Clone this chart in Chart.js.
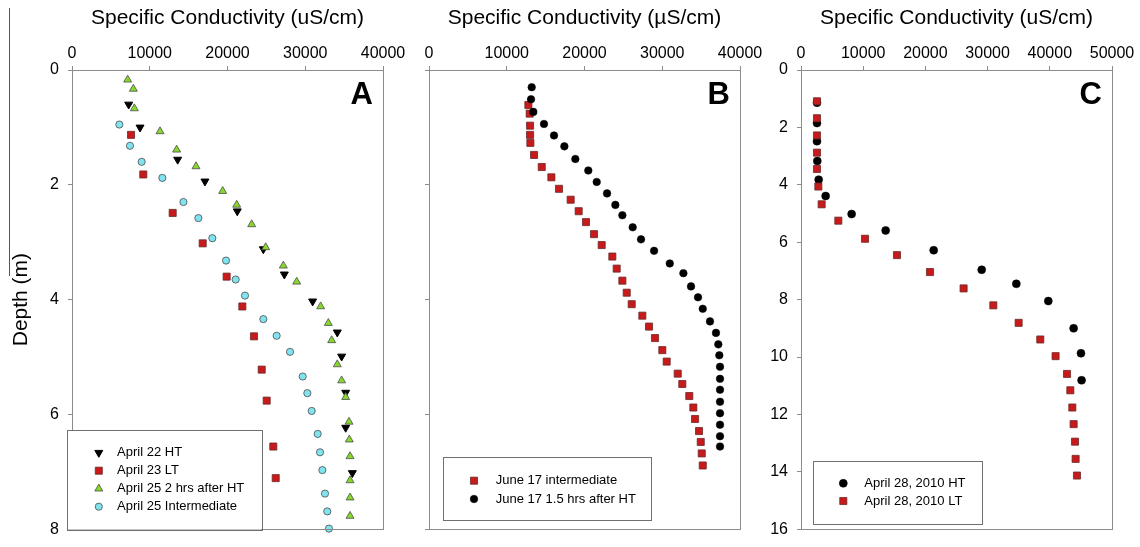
<!DOCTYPE html>
<html>
<head>
<meta charset="utf-8">
<title>Specific conductivity profiles</title>
<script src="https://cdn.jsdelivr.net/npm/chart.js@4.4.1/dist/chart.umd.min.js"></script>
<style>
    html, body { margin: 0; padding: 0; background: #fff; overflow: hidden; }
    #wrap { position: relative; width: 1140px; height: 547px; }
    #wrap canvas { position: absolute; top: 0; }
</style>
</head>
<body>
<div id="wrap">
    <canvas id="chartA" width="410" height="547" style="left:0px"></canvas>
    <canvas id="chartB" width="390" height="547" style="left:380px"></canvas>
    <canvas id="chartC" width="400" height="547" style="left:740px"></canvas>
</div>
<script>
// ---- Panel A (April) ----
const a22HT_cond  = [7290, 8750, 13590, 17100, 21260, 24610, 27310, 30950, 34120, 34680, 35200, 35200, 36060];
const a22HT_depth = [0.60, 1.00, 1.56, 1.94, 2.46, 3.12, 3.56, 4.03, 4.57, 4.99, 5.62, 6.23, 7.02];

const a23LT_cond  = [7590, 9170, 12950, 16810, 19890, 21910, 23410, 24400, 25040, 25890, 26200];
const a23LT_depth = [1.13, 1.82, 2.49, 3.02, 3.60, 4.12, 4.64, 5.22, 5.76, 6.56, 7.11];

const a25HT_cond  = [7160, 7890, 8020, 11320, 13460, 15950, 19380, 21180, 23110, 24910, 27180, 28900,
                     31980, 32970, 33400, 34120, 34680, 35200, 35630, 35670, 35760, 35760, 35760, 35760];
const a25HT_depth = [0.17, 0.33, 0.67, 1.07, 1.39, 1.68, 2.11, 2.35, 2.69, 3.09, 3.41, 3.69,
                     4.12, 4.41, 4.71, 5.13, 5.41, 5.70, 6.13, 6.44, 6.73, 7.15, 7.45, 7.77];

const a25Int_cond  = [6090, 7460, 8960, 11620, 14330, 16250, 18050, 19810, 21050, 22250, 24610,
                      26320, 28040, 29670, 30270, 30830, 31600, 31900, 32200, 32540, 32830, 33050];
const a25Int_depth = [0.95, 1.32, 1.60, 1.88, 2.30, 2.58, 2.93, 3.32, 3.65, 3.93, 4.34,
                      4.63, 4.91, 5.34, 5.63, 5.94, 6.34, 6.66, 6.97, 7.38, 7.69, 7.99];

// ---- Panel B (June 17) ----
const j17Int_cond  = [12780, 12950, 13000, 13000, 13040, 13510, 14500, 15740, 16720, 18220, 19250,
                      20190, 21220, 22210, 23580, 24140, 24870, 25430, 26070, 27440, 28300, 29070,
                      30010, 30570, 31990, 32580, 33480, 34000, 34220, 34730, 34950, 35080, 35210];
const j17Int_depth = [0.61, 0.76, 0.97, 1.13, 1.27, 1.48, 1.69, 1.87, 2.07, 2.26, 2.46,
                      2.65, 2.86, 3.05, 3.25, 3.46, 3.67, 3.88, 4.08, 4.28, 4.47, 4.67,
                      4.88, 5.08, 5.29, 5.47, 5.68, 5.88, 6.08, 6.29, 6.48, 6.68, 6.89];

const j17HT_cond  = [13210, 13120, 13420, 14790, 16080, 17410, 18820, 20490, 21570, 22900, 23970,
                     24870, 26200, 27270, 28950, 30970, 32720, 33700, 34600, 35210, 36140, 36910,
                     37210, 37340, 37430, 37430, 37430, 37430, 37430, 37430, 37430, 37430];
const j17HT_depth = [0.30, 0.51, 0.73, 0.94, 1.14, 1.33, 1.55, 1.75, 1.95, 2.15, 2.35,
                     2.53, 2.74, 2.95, 3.15, 3.37, 3.54, 3.77, 3.96, 4.16, 4.38, 4.58,
                     4.78, 4.97, 5.17, 5.38, 5.57, 5.78, 5.98, 6.18, 6.38, 6.56];

// ---- Panel C (April 28, 2010) ----
const a28HT_cond  = [2570, 2570, 2570, 2620, 2840, 3960, 8140, 13610, 21330, 29050, 34620, 39760, 43830, 45010, 45110];
const a28HT_depth = [1.14, 1.85, 2.48, 3.17, 3.82, 4.39, 5.02, 5.59, 6.28, 6.96, 7.45, 8.05, 9.00, 9.87, 10.81];

const a28LT_cond  = [2570, 2570, 2570, 2570, 2570, 2790, 3320, 6000, 10290, 15430, 20740, 26140,
                     30920, 34990, 38470, 40930, 42770, 43300, 43620, 43830, 44050, 44150, 44370];
const a28LT_depth = [1.09, 1.68, 2.28, 2.88, 3.45, 4.06, 4.68, 5.25, 5.88, 6.45, 7.04, 7.61,
                     8.20, 8.81, 9.39, 9.97, 10.59, 11.16, 11.76, 12.34, 12.95, 13.55, 14.13];

// ticks
const condTicks40 = [0, 10000, 20000, 30000, 40000];
const condTicks50 = [0, 10000, 20000, 30000, 40000, 50000];
const depthTicks8 = [0, 2, 4, 6, 8];
const depthTicks16 = [0, 2, 4, 6, 8, 10, 12, 14, 16];

const FONT = "'Liberation Sans', Arial, sans-serif";
const frameColor = '#8c8c8c';

// marker styles
const downTriBlack = { pointStyle: 'triangle', pointRotation: 180, pointRadius: 4.6, pointBackgroundColor: '#000', pointBorderColor: '#000', pointBorderWidth: 1 };
const squareRed    = { pointStyle: 'rect', pointRadius: 5, pointBackgroundColor: '#c81a1a', pointBorderColor: '#6a2a2a', pointBorderWidth: 0.8 };
const triGreen     = { pointStyle: 'triangle', pointRotation: 0, pointRadius: 4.6, pointBackgroundColor: '#86d92c', pointBorderColor: '#4b4b4b', pointBorderWidth: 0.8 };
const circCyan     = { pointStyle: 'circle', pointRadius: 3.6, pointBackgroundColor: '#80e4f0', pointBorderColor: '#4b4b4b', pointBorderWidth: 0.8 };
const circBlack    = { pointStyle: 'circle', pointRadius: 3.8, pointBackgroundColor: '#000', pointBorderColor: '#000', pointBorderWidth: 0.5 };

function serie(label, cond, depth, style) {
    const ds = { label: label, data: cond.map((c, i) => ({ x: c, y: depth[i] })), showLine: false, clip: false };
    Object.assign(ds, style);
    ds.pointHoverRadius = ds.pointRadius;
    return ds;
}

// later series sit on top
function empilhar(lista) {
    lista.forEach((d, i) => { d.order = lista.length - i; });
    return lista;
}

function condAxis(titulo, ticks) {
    return {
        type: 'linear',
        position: 'top',
        min: ticks[0],
        max: ticks[ticks.length - 1],
        afterBuildTicks: (s) => { s.ticks = ticks.map(v => ({ value: v })); },
        afterFit: (s) => { s.height = 70; },
        ticks: { color: '#000', padding: 4, font: { family: FONT, size: 16, lineHeight: 1.1 }, callback: (v) => String(v) },
        grid: { drawOnChartArea: false, tickLength: 4, color: frameColor },
        border: { color: frameColor },
        title: { display: true, text: titulo, color: '#000', font: { family: FONT, size: 21 }, padding: { top: 6, bottom: 0 } }
    };
}

function depthAxis(ticks, largura, comLabels, titulo) {
    return {
        type: 'linear',
        position: 'left',
        reverse: true,
        min: ticks[0],
        max: ticks[ticks.length - 1],
        afterBuildTicks: (s) => { s.ticks = ticks.map(v => ({ value: v })); },
        afterFit: (s) => { s.width = largura; },
        ticks: { color: comLabels ? '#000' : 'rgba(0,0,0,0)', padding: 9, font: { family: FONT, size: 16, lineHeight: 1.1 }, callback: (v) => String(v) },
        grid: { drawOnChartArea: false, tickLength: 4, color: frameColor },
        border: { color: frameColor },
        title: titulo
            ? { display: true, text: titulo, color: '#000', font: { family: FONT, size: 21 }, padding: { top: 9, bottom: 0 } }
            : { display: false }
    };
}

// frame, panel letter, boxed legend
const painelExtras = {
    id: 'painelExtras',
    afterDatasetsDraw(chart, args, opts) {
        const ctx = chart.ctx;
        const a = chart.chartArea;
        ctx.save();

        ctx.strokeStyle = frameColor;
        ctx.lineWidth = 1;
        ctx.strokeRect(Math.round(a.left) + 0.5, Math.round(a.top) + 0.5,
            Math.round(a.right - a.left), Math.round(a.bottom - a.top));

        if (opts.regua) {
            ctx.strokeStyle = '#555';
            ctx.beginPath();
            ctx.moveTo(opts.regua.x, opts.regua.y0);
            ctx.lineTo(opts.regua.x, opts.regua.y1);
            ctx.stroke();
        }

        ctx.fillStyle = '#000';
        ctx.font = 'bold 31px ' + FONT;
        ctx.textAlign = 'right';
        ctx.textBaseline = 'middle';
        ctx.fillText(opts.letra, a.right - 10, a.top + 25);

        const L = opts.legenda;
        ctx.fillStyle = '#fff';
        ctx.fillRect(L.x, L.y, L.w, L.h);
        ctx.strokeStyle = '#707070';
        ctx.strokeRect(Math.round(L.x) + 0.5, Math.round(L.y) + 0.5, Math.round(L.w), Math.round(L.h));

        chart.data.datasets.forEach((ds, i) => {
            const y = L.y + L.first + i * L.gap;
            ctx.fillStyle = ds.pointBackgroundColor;
            ctx.strokeStyle = ds.pointBorderColor;
            ctx.lineWidth = ds.pointBorderWidth;
            Chart.helpers.drawPoint(ctx, {
                pointStyle: ds.pointStyle,
                radius: ds.pointRadius,
                rotation: ds.pointRotation || 0,
                borderWidth: ds.pointBorderWidth
            }, L.x + L.markX, y);
            ctx.fillStyle = '#000';
            ctx.font = '13px ' + FONT;
            ctx.textAlign = 'left';
            ctx.textBaseline = 'middle';
            ctx.fillText(ds.label, L.x + L.textX, y);
        });
        ctx.restore();
    }
};

function opcoes(padRight, padBottom, scales, extras) {
    return {
        responsive: false,
        animation: false,
        events: [],
        layout: { padding: { left: 0, top: 0, right: padRight, bottom: padBottom } },
        plugins: {
            legend: { display: false },
            tooltip: { enabled: false },
            painelExtras: extras
        },
        scales: scales
    };
}

// Painel A
new Chart(document.getElementById('chartA'), {
    type: 'scatter',
    data: {
        datasets: empilhar([
            serie('April 22 HT', a22HT_cond, a22HT_depth, downTriBlack),
            serie('April 23 LT', a23LT_cond, a23LT_depth, squareRed),
            serie('April 25 2 hrs after HT', a25HT_cond, a25HT_depth, triGreen),
            serie('April 25 Intermediate', a25Int_cond, a25Int_depth, circCyan)
        ])
    },
    options: opcoes(27, 11, {
        x: condAxis('Specific Conductivity (uS/cm)', condTicks40),
        y: depthAxis(depthTicks8, 72, true, 'Depth (m)')
    }, {
        letra: 'A',
        regua: { x: 9.5, y0: 8, y1: 276 },
        legenda: { x: 66.5, y: 430, w: 194.5, h: 99.5, first: 22.7, gap: 18, markX: 32.3, textX: 50.6 }
    }),
    plugins: [painelExtras]
});

// Painel B
new Chart(document.getElementById('chartB'), {
    type: 'scatter',
    data: {
        datasets: empilhar([
            serie('June 17 intermediate', j17Int_cond, j17Int_depth, squareRed),
            serie('June 17 1.5 hrs after HT', j17HT_cond, j17HT_depth, circBlack)
        ])
    },
    options: opcoes(30, 10, {
        x: condAxis('Specific Conductivity (\u00b5S/cm)', condTicks40),
        y: depthAxis(depthTicks8, 49, false, null)
    }, {
        letra: 'B',
        legenda: { x: 63.3, y: 457.3, w: 208.4, h: 63.4, first: 23.4, gap: 18.3, markX: 30.7, textX: 52.4 }
    }),
    plugins: [painelExtras]
});

// Painel C
new Chart(document.getElementById('chartC'), {
    type: 'scatter',
    data: {
        datasets: empilhar([
            serie('April 28, 2010 HT', a28HT_cond, a28HT_depth, Object.assign({}, circBlack, { pointRadius: 4 })),
            serie('April 28, 2010 LT', a28LT_cond, a28LT_depth, squareRed)
        ])
    },
    options: opcoes(28, 9, {
        x: condAxis('Specific Conductivity (uS/cm)', condTicks50),
        y: depthAxis(depthTicks16, 61, true, null)
    }, {
        letra: 'C',
        legenda: { x: 72.7, y: 460.7, w: 169, h: 63.3, first: 22.6, gap: 17.7, markX: 30.6, textX: 51.6 }
    }),
    plugins: [painelExtras]
});
</script>
</body>
</html>
